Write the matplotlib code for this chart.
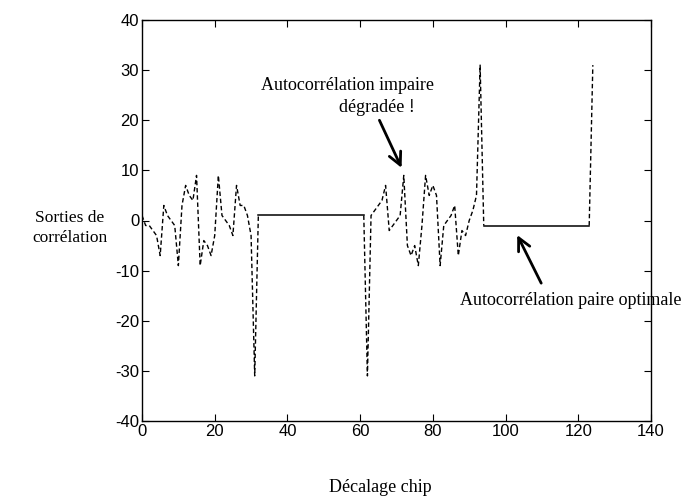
import numpy as np
import matplotlib
matplotlib.use("Agg")
import matplotlib.pyplot as plt

plt.rcParams["axes.unicode_minus"] = False

# Odd-correlation stretch before the first flat run (chip offsets 0..32)
lag_odd1 = np.arange(0, 33)
corr_odd1 = [1, -1, -1, -2, -3, -7, 3, 1, 0, -1, -9, 3, 7, 5, 4, 9, -9,
             -4, -5, -7, -3, 9, 1, 0, -1, -3, 7, 3, 3, 1, -3, -31, 1]

# Flat run at +1 (chip offsets 32..61)
lag_even1 = np.arange(32, 62)
corr_even1 = [1] * len(lag_even1)

# Second odd stretch, including the dip at 62 and the peak at 93
lag_odd2 = np.arange(61, 95)
corr_odd2 = [1, -31, 1, 2, 3, 4, 7, -2, -1, 0, 1, 9, -5, -7, -5, -9, -1,
             9, 5, 7, 5, -9, -1, 0, 1, 3, -7, -2, -3, 0, 2, 5, 31, -1]

# Flat run at -1 (chip offsets 94..123)
lag_even2 = np.arange(94, 124)
corr_even2 = [-1] * len(lag_even2)

# Final peak
lag_odd3 = np.arange(123, 125)
corr_odd3 = [-1, 31]

x_ticks = [0, 20, 40, 60, 80, 100, 120, 140]
y_ticks = [-40, -30, -20, -10, 0, 10, 20, 30, 40]

serif = ["Liberation Serif", "DejaVu Serif"]
sans = ["Liberation Sans", "DejaVu Sans"]

fig = plt.figure(figsize=(6.88, 4.99), dpi=100)
ax = fig.add_axes([142 / 688, 1 - 421 / 499, (651 - 142) / 688, (421 - 20) / 499])

dash = (0, (3.2, 2.0))
for lx, ly in [(lag_odd1, corr_odd1), (lag_odd2, corr_odd2), (lag_odd3, corr_odd3)]:
    ax.plot(lx, ly, color="black", lw=1.0, linestyle=dash)
for lx, ly in [(lag_even1, corr_even1), (lag_even2, corr_even2)]:
    ax.plot(lx, ly, color="black", lw=1.1, linestyle="-")

ax.set_xlim(0, 140)
ax.set_ylim(-40, 40)
ax.set_xticks(x_ticks)
ax.set_yticks(y_ticks)
ax.tick_params(direction="in", top=True, right=True, length=5, width=0.8,
               labelsize=12, pad=2)
for lab in ax.get_xticklabels() + ax.get_yticklabels():
    lab.set_family(sans)
for sp in ax.spines.values():
    sp.set_linewidth(1.0)

arrow = dict(arrowstyle="->,head_length=0.9,head_width=0.45", lw=2.0, color="black",
             shrinkA=0, shrinkB=0)
ax.annotate("", xy=(71.4, 10.5), xytext=(65.3, 20.0), arrowprops=arrow)
ax.annotate("", xy=(103.2, -2.9), xytext=(109.8, -12.5), arrowprops=arrow)

ax.text(56.5, 26.9, "Autocorrélation impaire", family=serif, fontsize=13,
        ha="center", va="center")
ax.text(64.5, 22.6, "dégradée !", family=serif, fontsize=13,
        ha="center", va="center")
ax.text(87.6, -16.0, "Autocorrélation paire optimale", family=serif, fontsize=13,
        ha="left", va="center", clip_on=False)

fig.text(70 / 688, 1 - 228 / 499, "Sorties de\ncorrélation", family=serif, fontsize=12.5,
         ha="center", va="center", linespacing=1.3)
fig.text(380 / 688, 1 - 487 / 499, "Décalage chip", family=serif, fontsize=13,
         ha="center", va="center")

fig.savefig("out.png", dpi=100)
